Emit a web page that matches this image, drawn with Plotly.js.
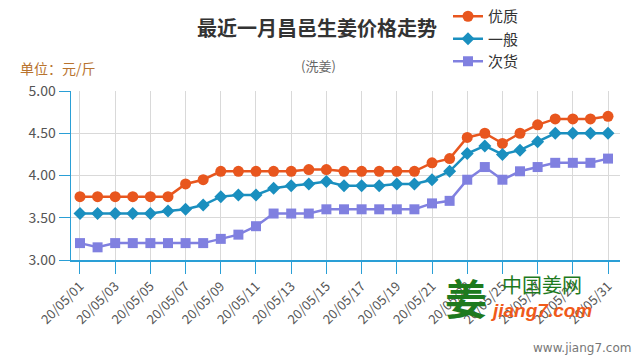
<!DOCTYPE html>
<html>
<head>
<meta charset="utf-8">
<script src="https://cdn.plot.ly/plotly-3.0.1.min.js"></script>
<style>html,body{margin:0;padding:0;background:#fff;}#chart{width:640px;height:360px;}</style>
</head>
<body>
<div id="chart"></div>
<script>
var dates = ["20/05/01","20/05/02","20/05/03","20/05/04","20/05/05","20/05/06","20/05/07","20/05/08","20/05/09","20/05/10",
             "20/05/11","20/05/12","20/05/13","20/05/14","20/05/15","20/05/16","20/05/17","20/05/18","20/05/19","20/05/20",
             "20/05/21","20/05/22","20/05/23","20/05/24","20/05/25","20/05/26","20/05/27","20/05/28","20/05/29","20/05/30","20/05/31"];
var tickLabels = ["20/05/01","20/05/03","20/05/05","20/05/07","20/05/09","20/05/11","20/05/13","20/05/15",
                  "20/05/17","20/05/19","20/05/21","20/05/23","20/05/25","20/05/27","20/05/29","20/05/31"];
var youzhi = [3.75,3.75,3.75,3.75,3.75,3.75,3.90,3.95,4.05,4.05,4.05,4.05,4.05,4.07,4.07,4.05,4.05,4.05,4.05,4.05,4.15,4.20,4.45,4.50,4.38,4.50,4.60,4.67,4.67,4.67,4.70];
var yiban  = [3.55,3.55,3.55,3.55,3.55,3.58,3.60,3.65,3.75,3.77,3.77,3.85,3.88,3.90,3.93,3.88,3.88,3.88,3.90,3.90,3.95,4.05,4.26,4.35,4.25,4.30,4.40,4.50,4.50,4.50,4.50];
var cihuo  = [3.20,3.15,3.20,3.20,3.20,3.20,3.20,3.20,3.25,3.30,3.40,3.55,3.55,3.55,3.60,3.60,3.60,3.60,3.60,3.60,3.67,3.70,3.95,4.10,3.95,4.05,4.10,4.15,4.15,4.15,4.20];
var seriesNames = ["优质","一般","次货"];

var FONT = "Noto Sans CJK SC, Noto Sans, sans-serif";
var AXISBLUE = "#2a9fd6";

var traces = [
  {x: dates, y: youzhi, name: seriesNames[0], type: "scatter", mode: "lines+markers", legendgroup: "a",
   line: {color: "#e8561e", width: 2.5}, marker: {symbol: "circle", size: 11, color: "#e8561e"}},
  {x: dates, y: yiban, name: seriesNames[1], type: "scatter", mode: "lines+markers", legendgroup: "b",
   line: {color: "#1a8fbf", width: 2.5}, marker: {symbol: "diamond", size: 10, color: "#1a8fbf"}},
  {x: dates, y: cihuo, name: seriesNames[2], type: "scatter", mode: "lines+markers", legendgroup: "c",
   line: {color: "#8080e0", width: 2.5}, marker: {symbol: "square", size: 10, color: "#8080e0"}}
];

var layout = {
  width: 640, height: 360,
  margin: {l: 71, r: 20, t: 91, b: 100, autoexpand: false},
  paper_bgcolor: "#fff", plot_bgcolor: "#fff",
  font: {family: FONT, color: "#555"},
  showlegend: true,
  legend: {xref: "container", yref: "container", x: 0.700, y: 1.0, xanchor: "left", yanchor: "top",
           font: {size: 15, color: "#333", family: FONT}, tracegroupgap: 0, traceorder: "grouped",
           bgcolor: "rgba(0,0,0,0)"},
  xaxis: {
    type: "category", range: [-0.51, 30.68],
    tickmode: "array", tickvals: tickLabels, ticktext: tickLabels,
    tickangle: -45, tickfont: {size: 13, color: "#555"},
    ticks: "outside", ticklen: 12, tickcolor: AXISBLUE, tickwidth: 1,
    showline: true, linecolor: AXISBLUE, linewidth: 1.5,
    showgrid: true, gridcolor: "#d9d9d9", gridwidth: 1, zeroline: false, fixedrange: true
  },
  yaxis: {
    range: [3, 5], dtick: 0.5, tick0: 3, tickformat: ".2f",
    tickfont: {size: 14, color: "#555"},
    ticks: "outside", ticklen: 11, tickcolor: AXISBLUE, tickwidth: 1,
    showline: true, linecolor: AXISBLUE, linewidth: 1.5,
    showgrid: true, gridcolor: "#d9d9d9", gridwidth: 1, zeroline: false, fixedrange: true
  },
  annotations: [
    {xref: "paper", yref: "paper", x: (317 - 71) / 549, y: (260 - 27) / 169,
     text: "<b>最近一月昌邑生姜价格走势</b>", showarrow: false, xanchor: "center", yanchor: "middle",
     font: {size: 20, color: "#333", family: FONT}},
    {xref: "paper", yref: "paper", x: (318 - 71) / 549, y: (260 - 65) / 169,
     text: "(洗姜)", showarrow: false, xanchor: "center", yanchor: "middle",
     font: {size: 13, color: "#666", family: FONT}},
    {xref: "paper", yref: "paper", x: (18 - 71) / 549, y: (260 - 68) / 169,
     text: "单位：元/斤", showarrow: false, xanchor: "left", yanchor: "middle",
     font: {size: 14, color: "#b8732e", family: FONT}},
    {xref: "paper", yref: "paper", x: (466 - 71) / 549, y: (260 - 296) / 169,
     text: "<b>姜</b>", showarrow: false, xanchor: "center", yanchor: "middle",
     font: {size: 42, color: "#1e7a1e", family: FONT}},
    {xref: "paper", yref: "paper", x: (542 - 71) / 549, y: (260 - 284) / 169,
     text: "中国姜网", showarrow: false, xanchor: "center", yanchor: "middle",
     font: {size: 20, color: "#1e7a1e", family: FONT}},
    {xref: "paper", yref: "paper", x: (541 - 71) / 549, y: (260 - 310) / 169,
     text: "<b><i>jiang7.com</i></b>", showarrow: false, xanchor: "center", yanchor: "middle",
     font: {size: 19, color: "#f05a1a", family: "Liberation Sans, Arial, sans-serif"}},
    {xref: "paper", yref: "paper", x: (633 - 71) / 549, y: (260 - 348) / 169,
     text: "www.jiang7.com", showarrow: false, xanchor: "right", yanchor: "middle",
     font: {size: 12, color: "#777", family: "DejaVu Sans, sans-serif"}}
  ]
};

Plotly.newPlot("chart", traces, layout, {displayModeBar: false, staticPlot: true});
</script>
</body>
</html>
